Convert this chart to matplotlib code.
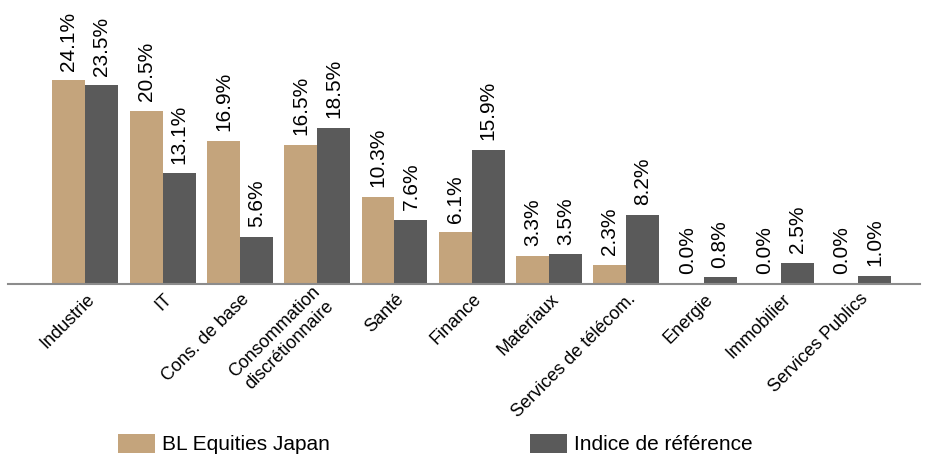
import matplotlib
import matplotlib.pyplot as plt
import numpy as np
from matplotlib.transforms import ScaledTranslation

matplotlib.use("Agg")
plt.rcParams["font.family"] = ["Liberation Sans", "DejaVu Sans"]

categories = ["Industrie", "IT", "Cons. de base", "Consommation\ndiscrétionnaire",
              "Santé", "Finance", "Materiaux", "Services de télécom.",
              "Energie", "Immobilier", "Services Publics"]
fund = [24.1, 20.5, 16.9, 16.5, 10.3, 6.1, 3.3, 2.3, 0.0, 0.0, 0.0]
index = [23.5, 13.1, 5.6, 18.5, 7.6, 15.9, 3.5, 8.2, 0.8, 2.5, 1.0]
series_names = ["BL Equities Japan", "Indice de référence"]

tan = "#c4a47c"
dark = "#5a5a5a"

fig = plt.figure(figsize=(9.28, 4.55), dpi=100)
ax = fig.add_axes([8 / 928, 171 / 455, 912 / 928, 279 / 455])

x = np.arange(len(categories))
w = 0.426
b1 = ax.bar(x - w / 2, fund, w, color=tan, label=series_names[0])
b2 = ax.bar(x + w / 2, index, w, color=dark, label=series_names[1])

for bars, vals in ((b1, fund), (b2, index)):
    for rect, v in zip(bars, vals):
        ax.annotate(f"{v:.1f}%", (rect.get_x() + rect.get_width() / 2, v),
                    xytext=(0, 7), textcoords="offset points",
                    rotation=90, ha="center", va="bottom", fontsize=15)

ax.set_xlim(-1.0, 10.8)
ax.set_ylim(0, 33)
for s in ("top", "right", "left"):
    ax.spines[s].set_visible(False)
ax.spines["bottom"].set_color("#8c8c8c")
ax.spines["bottom"].set_linewidth(1.5)
ax.set_yticks([])
ax.set_xticks(x)
ax.set_xticklabels(categories, rotation=45, ha="right", va="center",
                   rotation_mode="anchor", fontsize=13)
ax.tick_params(axis="x", length=0, pad=9)
shift = ScaledTranslation(7 / 100, 0, fig.dpi_scale_trans)
for lab in ax.get_xticklabels():
    lab.set_transform(lab.get_transform() + shift)

fig.legend(handles=[b1, b2], loc="center left", bbox_to_anchor=(118 / 928, 11 / 455),
           ncol=2, frameon=False, fontsize=15, borderpad=0, borderaxespad=0,
           handlelength=1.78, handleheight=1.06, handletextpad=0.34,
           columnspacing=9.6)

fig.savefig("out.png", dpi=100)
